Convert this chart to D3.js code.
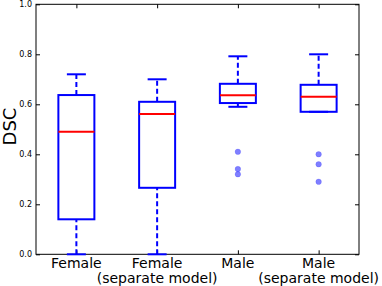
<!DOCTYPE html>
<html><head><meta charset="utf-8">
<script src="https://cdn.jsdelivr.net/npm/d3@7"></script>
<style>body{margin:0;background:#fff}svg{display:block}text{font-family:"DejaVu Sans",sans-serif}</style>
</head><body><svg id="c" width="382" height="286"></svg>
<script>
const categories = ["Female", "Female\n(separate model)", "Male", "Male\n(separate model)"];
const whiskerLow  = [0.0, 0.0, 0.59, 0.57];
const q1          = [0.14, 0.266, 0.605, 0.57];
const median      = [0.49, 0.561, 0.636, 0.63];
const q3          = [0.637, 0.61, 0.682, 0.678];
const whiskerHigh = [0.72, 0.70, 0.792, 0.80];
const outliers    = [[], [], [0.41, 0.341, 0.32], [0.40, 0.36, 0.29]];
const yTicks = [0.0, 0.2, 0.4, 0.6, 0.8, 1.0];

const svg = d3.select("#c");
const L = 36, R = 359, T = 4.3, B = 254.3;
const x = d3.scaleLinear().domain([0.5, 4.5]).range([L, R]);
const y = d3.scaleLinear().domain([0, 1]).range([B, T]);
const bw = 36, cw = 19;

// frame
svg.append("rect").attr("x", L).attr("y", T).attr("width", R - L).attr("height", B - T)
  .attr("fill", "none").attr("stroke", "#000").attr("stroke-width", 1);

// y ticks
const yl = d3.axisLeft(y).tickValues(yTicks).tickFormat(d3.format(".1f")).tickSizeInner(-4).tickSizeOuter(0).tickPadding(4);
const ga = svg.append("g").attr("transform", `translate(${L},0)`).call(yl);
ga.select(".domain").remove();
ga.selectAll("text").attr("font-size", 8).attr("font-family", "DejaVu Sans").attr("fill", "#000");
ga.selectAll("line").attr("stroke", "#000");
const yr = d3.axisRight(y).tickValues(yTicks).tickFormat("").tickSizeInner(-4).tickSizeOuter(0);
const gr = svg.append("g").attr("transform", `translate(${R},0)`).call(yr);
gr.select(".domain").remove();
gr.selectAll("line").attr("stroke", "#000");

// x ticks
const idx = categories.map((d, i) => i + 1);
const xb = d3.axisBottom(x).tickValues(idx).tickFormat("").tickSizeInner(-4).tickSizeOuter(0);
const gb = svg.append("g").attr("transform", `translate(0,${B})`).call(xb);
gb.select(".domain").remove(); gb.selectAll("line").attr("stroke", "#000");
const xt = d3.axisTop(x).tickValues(idx).tickFormat("").tickSizeInner(-4).tickSizeOuter(0);
const gt = svg.append("g").attr("transform", `translate(0,${T})`).call(xt);
gt.select(".domain").remove(); gt.selectAll("line").attr("stroke", "#000");

// x labels
categories.forEach((c, i) => {
  const lines = c.split("\n");
  const t = svg.append("text").attr("x", x(i + 1)).attr("y", 268).attr("text-anchor", "middle")
    .attr("font-size", 14).attr("fill", "#000");
  lines.forEach((ln, j) => t.append("tspan").attr("x", x(i + 1)).attr("dy", j === 0 ? 0 : 15).text(ln));
});

// y label
svg.append("text").attr("transform", `translate(15.5,126.5) rotate(-90)`).attr("text-anchor", "middle")
  .attr("font-size", 18).attr("fill", "#000").text("DSC");

// boxes
const g = svg.append("g");
categories.forEach((c, i) => {
  const cx = x(i + 1);
  // whiskers
  [[q3[i], whiskerHigh[i]], [whiskerLow[i], q1[i]]].forEach(([a, b]) => {
    if (b > a) g.append("line").attr("x1", cx).attr("x2", cx).attr("y1", y(a)).attr("y2", y(b))
      .attr("stroke", "#0000ff").attr("stroke-width", 2).attr("stroke-dasharray", "5,3");
  });
  [whiskerLow[i], whiskerHigh[i]].forEach(v => {
    g.append("line").attr("x1", cx - cw / 2).attr("x2", cx + cw / 2).attr("y1", y(v)).attr("y2", y(v))
      .attr("stroke", "#0000ff").attr("stroke-width", 2);
  });
  g.append("rect").attr("x", cx - bw / 2).attr("width", bw).attr("y", y(q3[i])).attr("height", y(q1[i]) - y(q3[i]))
    .attr("fill", "none").attr("stroke", "#0000ff").attr("stroke-width", 2);
  g.append("line").attr("x1", cx - bw / 2).attr("x2", cx + bw / 2).attr("y1", y(median[i])).attr("y2", y(median[i]))
    .attr("stroke", "#ff0000").attr("stroke-width", 2);
  outliers[i].forEach(v => {
    g.append("circle").attr("cx", cx).attr("cy", y(v)).attr("r", 2.8)
      .attr("fill", "#0000ff").attr("fill-opacity", 0.5).attr("stroke", "#0000ff").attr("stroke-opacity", 0.3).attr("stroke-width", 0.5);
  });
});
</script></body></html>
